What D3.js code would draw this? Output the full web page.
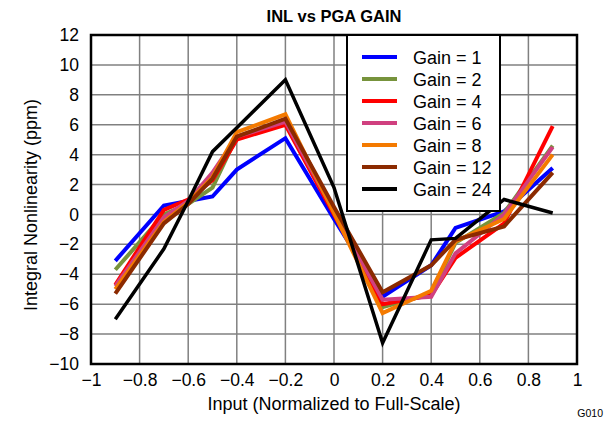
<!DOCTYPE html>
<html><head><meta charset="utf-8">
<script src="https://cdn.jsdelivr.net/npm/d3@7"></script>
<style>body{margin:0;background:#fff}svg{display:block}text{font-family:"Liberation Sans",Arial,sans-serif}</style>
</head><body><svg id="c" width="608" height="422"></svg>
<script>
const xValues = [-0.9, -0.7, -0.6, -0.5, -0.4, -0.2, 0, 0.2, 0.4, 0.5, 0.7, 0.9];
const seriesNames = ["Gain = 1","Gain = 2","Gain = 4","Gain = 6","Gain = 8","Gain = 12","Gain = 24"];
const seriesColors = ["#0000ff","#77933c","#ff0000","#d0407f","#f47a00","#8b2a00","#000000"];
const gain1  = [-3.1, 0.6, 0.9, 1.2, 3.0, 5.1, -0.3, -5.5, -3.4, -0.9, 0.2, 3.1];
const gain2  = [-3.7, 0.0, 0.7, 1.8, 5.2, 6.3, 0.1, -6.2, -5.3, -1.9, 0.1, 4.6];
const gain4  = [-4.7, 0.3, 1.0, 2.3, 5.0, 6.0, 0.0, -6.0, -5.4, -2.9, -0.6, 5.9];
const gain6  = [-4.8, -0.2, 0.9, 2.8, 5.2, 6.2, 0.2, -5.7, -5.5, -2.6, 0.0, 4.5];
const gain8  = [-5.0, -0.5, 0.8, 2.5, 5.5, 6.7, 0.1, -6.6, -5.1, -1.8, -0.3, 4.0];
const gain12 = [-5.3, -0.6, 0.7, 2.4, 5.2, 6.4, 0.5, -5.2, -3.4, -1.7, -0.8, 2.8];
const gain24 = [-7.0, -2.3, 0.9, 4.2, 5.8, 9.0, 1.8, -8.6, -1.7, -1.6, 1.0, 0.1];
const seriesValues = [gain1, gain2, gain4, gain6, gain8, gain12, gain24];
const xTicks = [-1,-0.8,-0.6,-0.4,-0.2,0,0.2,0.4,0.6,0.8,1];
const yTicks = [-10,-8,-6,-4,-2,0,2,4,6,8,10,12];

const svg = d3.select("#c");
const L=91, R=577, T=35, B=364;
const x = d3.scaleLinear().domain([-1,1]).range([L,R]);
const y = d3.scaleLinear().domain([-10,12]).range([B,T]);
const fmt = v => d3.format("")(v).replace("-", "\u2212");
const FF = "Liberation Sans, Arial, sans-serif";

// grid
svg.append("g").selectAll("line").data(xTicks).join("line")
  .attr("x1",d=>x(d)).attr("x2",d=>x(d)).attr("y1",T).attr("y2",B)
  .attr("stroke","#808080").attr("stroke-width",1.5);
svg.append("g").selectAll("line").data(yTicks).join("line")
  .attr("y1",d=>y(d)).attr("y2",d=>y(d)).attr("x1",L).attr("x2",R)
  .attr("stroke","#808080").attr("stroke-width",1.5);

// axes labels
const xAxis = d3.axisBottom(x).tickValues(xTicks).tickSize(0).tickPadding(10).tickFormat(fmt);
const gx = svg.append("g").attr("transform",`translate(0,${B})`).call(xAxis);
gx.select(".domain").remove();
gx.selectAll("text").attr("font-size",17.5).attr("fill","#000").style("font-family",FF);
const yAxis = d3.axisLeft(y).tickValues(yTicks).tickSize(0).tickPadding(12).tickFormat(fmt);
const gy = svg.append("g").attr("transform",`translate(${L},0)`).call(yAxis);
gy.select(".domain").remove();
gy.selectAll("text").attr("font-size",17.5).attr("fill","#000").style("font-family",FF);

// lines
const line = d3.line().x((d,i)=>x(xValues[i])).y(d=>y(d));
seriesValues.forEach((vals,k)=>{
  svg.append("path").datum(vals).attr("d",line).attr("fill","none")
    .attr("stroke",seriesColors[k]).attr("stroke-width", k===6?3.5:4)
    .attr("stroke-linejoin","miter");
});

// border
svg.append("rect").attr("x",L).attr("y",T).attr("width",R-L).attr("height",B-T)
  .attr("fill","none").attr("stroke","#000").attr("stroke-width",2.5);

// legend
const lg = svg.append("g");
lg.append("rect").attr("x",347).attr("y",T).attr("width",153).attr("height",176)
  .attr("fill","#fff").attr("stroke","#000").attr("stroke-width",2);
seriesNames.forEach((n,k)=>{
  const cy = 57 + k*22;
  lg.append("line").attr("x1",362).attr("x2",397).attr("y1",cy).attr("y2",cy)
    .attr("stroke",seriesColors[k]).attr("stroke-width",4);
  lg.append("text").attr("x",413).attr("y",cy+6.5).attr("font-size",18).text(n);
});

// titles
svg.append("text").attr("x",334).attr("y",22).attr("text-anchor","middle")
  .attr("font-size",16.5).attr("font-weight","bold").text("INL vs PGA GAIN");
svg.append("text").attr("x",334).attr("y",410).attr("text-anchor","middle")
  .attr("font-size",18).text("Input (Normalized to Full-Scale)");
svg.append("text").attr("transform","translate(37,205) rotate(-90)").attr("text-anchor","middle")
  .attr("font-size",18).text("Integral Nonlinearity (ppm)");
svg.append("text").attr("x",603).attr("y",417).attr("text-anchor","end")
  .attr("font-size",10.5).text("G010");
</script></body></html>
